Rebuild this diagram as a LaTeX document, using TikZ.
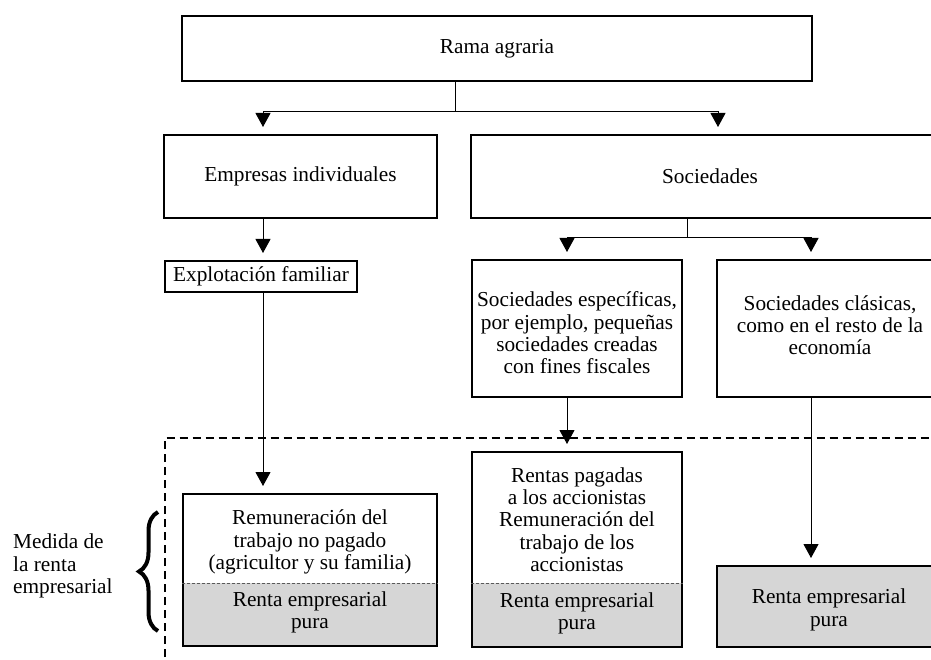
\documentclass[tikz,border=0pt]{standalone}
\usepackage{fontspec}
\setmainfont{Liberation Serif}
\usetikzlibrary{arrows.meta,decorations.pathreplacing,backgrounds}
\definecolor{boxgrey}{RGB}{214,214,214}
\tikzset{
  box/.style={draw, line width=2pt, rectangle, inner sep=0pt},
  txt/.style={align=center, inner sep=0pt, font=\fontsize{21.3}{22.3}\selectfont},
  conn/.style={line width=1pt},
  arr/.style={line width=1pt, -{Triangle[width=15pt,length=14pt]}, shorten >=7pt},
  divider/.style={line width=0.8pt, dash pattern=on 3pt off 2pt, gray!70!black},
  dashbox/.style={line width=2pt, dash pattern=on 8pt off 5pt},
}
\begin{document}
\begin{tikzpicture}[x=1pt,y=-1pt]
\useasboundingbox (0,0) rectangle (931,660);
\clip (0,0) rectangle (931,660);

% boxes
\node[box, minimum width=630pt, minimum height=65pt] (rama) at (497,48.5) {};
\node[txt] at (rama.center) {Rama agraria};
\node[box, minimum width=273pt, minimum height=83pt] (emp) at (300.5,176.5) {};
\node[txt] at (emp.center) {Empresas individuales};
\node[box, minimum width=478pt, minimum height=83pt] (soc) at (710,176.5) {};
\node[txt] at (soc.center) {Sociedades};
\node[box, minimum width=192pt, minimum height=31pt] (expl) at (261,276.5) {};
\node[txt] at (expl.center) {Explotación familiar};
\node[box, minimum width=210pt, minimum height=137pt] (soce) at (577,328.5) {};
\node[txt] at (577,333) {Sociedades específicas,\\por ejemplo, pequeñas\\sociedades creadas\\con fines fiscales};
\node[box, minimum width=226pt, minimum height=137pt] (socc) at (830,328.5) {};
\node[txt] at (830,325) {Sociedades clásicas,\\como en el resto de la\\economía};

\node[box, minimum width=254pt, minimum height=152pt] (rem) at (310,570) {};
\node[txt] at (310,542) {Remuneración del\\trabajo no pagado\\(agricultor y su familia)};
\node[txt] at (310,612.5) {Renta empresarial\\pura};
\node[box, minimum width=210pt, minimum height=195pt] (ren) at (577,549.5) {};
\node[txt] at (577,519.5) {Rentas pagadas\\a los accionistas\\Remuneración del\\trabajo de los\\accionistas};
\node[txt] at (577,613.5) {Renta empresarial\\pura};
\node[box, minimum width=224pt, minimum height=81pt] (pura) at (829,606.5) {};
\node[txt] at (829,610) {Renta empresarial\\pura};

% grey fills and dividers
\coordinate (dv) at (0,583);
\begin{scope}[on background layer]
  \fill[boxgrey] (rem.south west) rectangle (rem.east |- dv);
  \fill[boxgrey] (ren.south west) rectangle (ren.east |- dv);
  \fill[boxgrey] (pura.south west) rectangle (pura.north east);
\end{scope}
\draw[divider] (rem.west |- dv) -- (rem.east |- dv);
\draw[divider] (ren.west |- dv) -- (ren.east |- dv);

% dashed region
\draw[dashbox] (165,670) -- (165,437.5) -- (945,437.5);

% connectors
\coordinate (xa) at (263,0);
\coordinate (xb) at (718,0);
\coordinate (xc) at (455,0);
\coordinate (xd) at (687,0);
\coordinate (xe) at (567,0);
\coordinate (xf) at (811,0);
\draw[conn] (rama.south -| xc) -- ++(0,30) coordinate (j1);
\draw[arr] (j1) -| (emp.north -| xa);
\draw[arr] (j1) -| (soc.north -| xb);
\draw[arr] (emp.south -| xa) -- (expl.north -| xa);
\draw[arr] (expl.south -| xa) -- (rem.north -| xa);
\draw[conn] (soc.south -| xd) -- ++(0,19) coordinate (j2);
\draw[arr] (j2) -| (soce.north -| xe);
\draw[arr] (j2) -| (socc.north -| xf);
\draw[arr] (soce.south -| xe) -- (ren.north -| xe);
\draw[arr] (socc.south -| xf) -- (pura.north -| xf);

% brace and label
\draw[line width=4pt, decorate, decoration={brace, amplitude=19pt, aspect=0.5}] (158,631) -- (158,512);
\node[txt, align=left, anchor=west] (medida) at (13,566) {Medida de\\la renta\\empresarial};
\end{tikzpicture}
\end{document}
